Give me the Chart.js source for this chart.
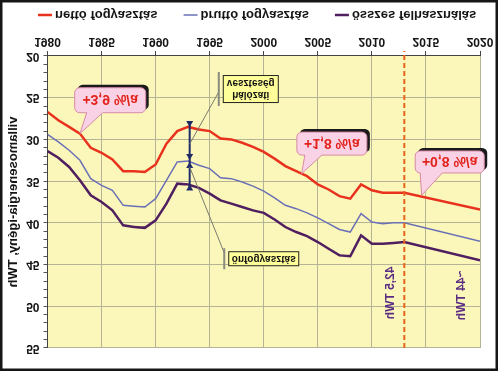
<!DOCTYPE html>
<html>
<head>
<meta charset="utf-8">
<script src="https://cdn.jsdelivr.net/npm/chart.js@4.4.1/dist/chart.umd.min.js"></script>
<style>
  html, body { margin: 0; padding: 0; background: #fff; }
  /* the reference picture is upside down, so the whole canvas is flipped */
  #chart { display: block; transform: scaleY(-1); }
</style>
</head>
<body>
<canvas id="chart" width="498" height="371"></canvas>
<script>
const FONT = '"Liberation Sans", Arial, sans-serif';

// data (TWh)
const years = [1980, 1981, 1982, 1983, 1984, 1985, 1986, 1987, 1988, 1989,
               1990, 1991, 1992, 1993, 1994, 1995, 1996, 1997, 1998, 1999,
               2000, 2001, 2002, 2003, 2004, 2005, 2006, 2007, 2008, 2009,
               2010, 2011, 2012, 2013, 2020];
const netto = [26.7, 27.7, 28.5, 29.3, 31.0, 31.6, 32.4, 33.8, 33.8, 33.9,
               33.0, 30.5, 29.0, 28.5, 28.8, 29.0, 29.9, 30.0, 30.4, 30.9,
               31.5, 32.3, 33.2, 33.8, 34.4, 35.4, 36.0, 36.8, 37.1, 35.4,
               36.1, 36.4, 36.4, 36.4, 38.4];
const brutto = [29.4, 30.3, 31.3, 32.5, 34.7, 35.5, 36.1, 37.9, 38.0, 38.1,
                37.1, 34.9, 32.7, 32.6, 33.1, 33.5, 34.6, 34.7, 35.1, 35.6,
                36.2, 37.0, 37.9, 38.3, 38.8, 39.4, 40.1, 40.8, 41.1, 38.9,
                39.9, 40.1, 40.0, 40.0, 42.2];
const osszes = [31.4, 32.2, 33.3, 34.9, 36.7, 37.5, 38.5, 40.3, 40.5, 40.6,
                39.7, 37.7, 35.3, 35.4, 35.8, 36.5, 37.3, 37.7, 38.1, 38.5,
                38.8, 39.6, 40.5, 41.1, 41.6, 42.3, 43.1, 43.9, 44.0, 41.5,
                42.5, 42.5, 42.4, 42.3, 44.5];

const seriesNames = ['nettó fogyasztás', 'bruttó fogyasztás', 'összes felhasználás'];
const xTickLabels = [1980, 1985, 1990, 1995, 2000, 2005, 2010, 2015, 2020];
const yTickLabels = [20, 25, 30, 35, 40, 45, 50, 55];
const forecastYear = 2013;

const toPoints = arr => years.map((yr, i) => ({ x: yr, y: arr[i] }));

const i93 = years.indexOf(1993);

const callouts = [
  { text: '+3,9 %/a', year: 1985.8, value: 25.3, w: 71, h: 25, tip: [1983, netto[3]], base: [12, 28] },
  { text: '+1,8 %/a', year: 2006.3, value: 30.5, w: 70, h: 23, tip: [2003.5, 34.1], base: [8, 25] },
  { text: '+0,8 %/a', year: 2017.2, value: 32.7, w: 69, h: 22, tip: [2014.6, 36.7], base: [5, 27] }
];

const notes = [
  { lines: ['hálózati', 'veszteség'], year: 1998.8, value: 23.96, w: 56, h: 28,
    from: 24.3, to: [1993.15, (netto[i93] + brutto[i93]) / 2] },
  { lines: ['önfogyasztás'], year: 2000.0, value: 44.3, w: 71, h: 15,
    from: 43.6, to: [1993.15, brutto[i93] + 0.7] }
];

function roundRect(ctx, x, y, w, h, r) {
  ctx.beginPath();
  ctx.moveTo(x + r, y);
  ctx.arcTo(x + w, y, x + w, y + h, r);
  ctx.arcTo(x + w, y + h, x, y + h, r);
  ctx.arcTo(x, y + h, x, y, r);
  ctx.arcTo(x, y, x + w, y, r);
  ctx.closePath();
}

function arrowHead(ctx, x, y, dir) {
  ctx.beginPath();
  ctx.moveTo(x, y);
  ctx.lineTo(x - 3.5, y + dir * 6);
  ctx.lineTo(x + 3.5, y + dir * 6);
  ctx.closePath();
  ctx.fill();
}

const background = {
  id: 'background',
  beforeDraw(chart) {
    const { ctx, chartArea: a } = chart;
    ctx.save();
    ctx.fillStyle = '#fff';
    ctx.fillRect(0, 0, chart.width, chart.height);
    ctx.fillStyle = '#FBF7BA';
    ctx.fillRect(a.left, a.top, a.right - a.left, a.bottom - a.top);
    ctx.restore();
  },
  afterDraw(chart) {
    const ctx = chart.ctx;
    ctx.save();
    // legend, drawn by hand
    ctx.font = 'bold 13px ' + FONT;
    ctx.textBaseline = 'middle';
    ctx.textAlign = 'left';
    let lx = 38;
    const ly = 356;
    chart.data.datasets.forEach(ds => {
      ctx.strokeStyle = ds.borderColor;
      ctx.lineWidth = ds.borderWidth;
      ctx.beginPath();
      ctx.moveTo(lx, ly);
      ctx.lineTo(lx + 14, ly);
      ctx.stroke();
      ctx.fillStyle = '#151515';
      ctx.fillText(ds.label, lx + 17, ly);
      lx += 17 + ctx.measureText(ds.label).width + 26;
    });
    // frame
    ctx.strokeStyle = '#161616';
    ctx.lineWidth = 2.5;
    ctx.strokeRect(1.25, 1.25, chart.width - 2.5, chart.height - 2.5);
    ctx.restore();
  }
};

const annotations = {
  id: 'annotations',
  afterDatasetsDraw(chart) {
    const ctx = chart.ctx, a = chart.chartArea;
    const X = v => chart.scales.x.getPixelForValue(v);
    const Y = v => chart.scales.y.getPixelForValue(v);
    ctx.save();

    // forecast line
    const fx = X(forecastYear);
    ctx.strokeStyle = '#E8641E';
    ctx.lineWidth = 2;
    ctx.setLineDash([5, 3]);
    ctx.beginPath();
    ctx.moveTo(fx, a.top);
    ctx.lineTo(fx, a.bottom + 5);
    ctx.stroke();
    ctx.setLineDash([]);

    // double arrows at 1993
    const ax = X(1993.15);
    const yR = Y(netto[i93]), yB = Y(brutto[i93]), yP = Y(osszes[i93]);
    ctx.strokeStyle = '#1F2B66';
    ctx.fillStyle = '#1F2B66';
    ctx.lineWidth = 2;
    ctx.beginPath();
    ctx.moveTo(ax, yR + 3);
    ctx.lineTo(ax, yP - 3);
    ctx.stroke();
    arrowHead(ctx, ax, yR, 1);
    arrowHead(ctx, ax, yB - 1, -1);
    arrowHead(ctx, ax, yB + 1, 1);
    arrowHead(ctx, ax, yP, -1);

    // yellow notes with leader lines
    notes.forEach(n => {
      const bx = X(n.year) - n.w / 2, by = Y(n.value) - n.h / 2;
      ctx.strokeStyle = '#7a7a70';
      ctx.lineWidth = 1;
      ctx.beginPath();
      ctx.moveTo(bx - 4, Y(n.from));
      ctx.lineTo(X(n.to[0]), Y(n.to[1]));
      ctx.stroke();
      ctx.strokeStyle = '#8a8a80';
      ctx.lineWidth = 2;
      ctx.beginPath();
      ctx.moveTo(bx - 4, by - 3);
      ctx.lineTo(bx - 4, by + n.h + 3);
      ctx.stroke();
      ctx.fillStyle = '#FFFF9A';
      ctx.fillRect(bx, by, n.w, n.h);
      ctx.strokeStyle = '#222';
      ctx.lineWidth = 1;
      ctx.strokeRect(bx + 0.5, by + 0.5, n.w - 1, n.h - 1);
      ctx.fillStyle = '#141414';
      ctx.font = 'bold 10px ' + FONT;
      ctx.textAlign = 'center';
      ctx.textBaseline = 'middle';
      const lh = 12;
      n.lines.forEach((t, k) => {
        ctx.fillText(t, bx + n.w / 2, by + n.h / 2 + (k - (n.lines.length - 1) / 2) * lh);
      });
    });

    // pink growth-rate callouts
    callouts.forEach(c => {
      const bx = X(c.year) - c.w / 2, by = Y(c.value) - c.h / 2;
      const tx = X(c.tip[0]), ty = Y(c.tip[1]);
      const r = 5;
      ctx.fillStyle = '#1a1a1a';
      roundRect(ctx, bx + 3, by + 3, c.w, c.h, r);
      ctx.fill();
      ctx.beginPath();
      ctx.moveTo(bx + r, by);
      ctx.lineTo(bx + c.base[0], by);
      ctx.lineTo(tx, ty);
      ctx.lineTo(bx + c.base[1], by);
      ctx.arcTo(bx + c.w, by, bx + c.w, by + c.h, r);
      ctx.arcTo(bx + c.w, by + c.h, bx, by + c.h, r);
      ctx.arcTo(bx, by + c.h, bx, by, r);
      ctx.arcTo(bx, by, bx + c.w, by, r);
      ctx.closePath();
      ctx.fillStyle = '#F9D3E5';
      ctx.fill();
      ctx.strokeStyle = '#D78AA8';
      ctx.lineWidth = 1;
      ctx.stroke();
      ctx.fillStyle = '#E2231C';
      ctx.font = 'bold 14px ' + FONT;
      ctx.textAlign = 'center';
      ctx.textBaseline = 'middle';
      ctx.fillText(c.text, bx + c.w / 2, by + c.h / 2 + 1);
    });

    // rotated TWh labels
    ctx.fillStyle = '#5A2D82';
    ctx.font = 'bold 12px ' + FONT;
    [['42,5 TWh', 2011.7, 48.4], ['~44 TWh', 2018.3, 48.7]].forEach(([t, yr, v]) => {
      ctx.save();
      ctx.translate(X(yr), Y(v));
      ctx.rotate(-Math.PI / 2);
      ctx.textAlign = 'center';
      ctx.textBaseline = 'middle';
      ctx.fillText(t, 0, 0);
      ctx.restore();
    });
    ctx.restore();
  }
};

const ctx = document.getElementById('chart');

const chart = new Chart(ctx, {
  type: 'line',
  data: {
    datasets: [{
      label: seriesNames[0],
      data: toPoints(netto),
      borderColor: '#E8321E',
      borderWidth: 2.5
    }, {
      label: seriesNames[1],
      data: toPoints(brutto),
      borderColor: '#6A70B6',
      borderWidth: 1.5
    }, {
      label: seriesNames[2],
      data: toPoints(osszes),
      borderColor: '#4F1F60',
      borderWidth: 2.5
    }]
  },
  options: {
    responsive: false,
    animation: false,
    devicePixelRatio: 1,
    layout: { padding: { top: 23, right: 18, bottom: 31, left: 0 } },
    elements: { point: { radius: 0 }, line: { tension: 0 } },
    plugins: {
      legend: { display: false },
      tooltip: { enabled: false }
    },
    scales: {
      x: {
        type: 'linear',
        min: 1980,
        max: 2020,
        afterBuildTicks: s => { s.ticks = xTickLabels.map(v => ({ value: v })); },
        afterFit: s => { s.height = 25; s.paddingLeft = 0; s.paddingRight = 0; },
        ticks: {
          autoSkip: false,
          maxRotation: 0,
          padding: 2,
          color: '#151515',
          font: { family: FONT, size: 12, weight: 'bold' },
          callback: v => String(v)
        },
        grid: { color: '#B5B395', tickColor: '#444', tickLength: 5 },
        border: { color: '#444' }
      },
      y: {
        min: 20,
        max: 55,
        afterFit: s => { s.width = 47.5; s.paddingTop = 0; s.paddingBottom = 0; },
        ticks: {
          stepSize: 1,
          autoSkip: false,
          padding: 4,
          color: '#151515',
          font: { family: FONT, size: 12, weight: 'bold' },
          callback: v => yTickLabels.includes(v) ? String(v) : ''
        },
        grid: {
          color: c => (c.tick && yTickLabels.includes(c.tick.value)) ? '#B5B395' : 'rgba(0,0,0,0)',
          tickColor: '#555',
          tickLength: 4
        },
        border: { color: '#444' },
        title: {
          display: true,
          text: 'villamosenergia-igény, TWh',
          color: '#151515',
          font: { family: FONT, size: 13, weight: 'bold' },
          padding: { top: 6, bottom: 2 }
        }
      }
    }
  },
  plugins: [background, annotations]
});
</script>
</body>
</html>
